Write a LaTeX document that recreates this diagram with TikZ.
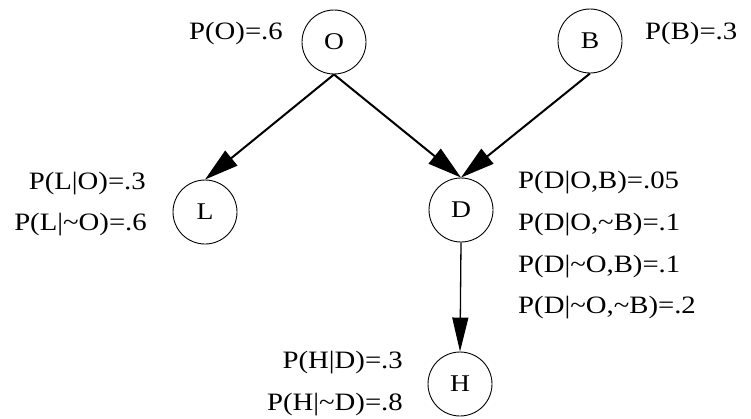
\documentclass[tikz,border=0pt]{standalone}
\usepackage{fontspec}
\setmainfont{Liberation Serif}[FakeStretch=1.15]
\usetikzlibrary{arrows.meta}
\begin{document}
\begin{tikzpicture}[x=1pt,y=-1pt,
  var/.style={draw, circle, line width=0.9pt, minimum size=64pt, inner sep=0pt, font=\fontsize{24}{26}\selectfont},
  lbl/.style={inner sep=0pt, font=\fontsize{25}{28}\selectfont},
  edge/.style={line width=2pt, -{Triangle[length=34pt,width=19pt]}},
  edgethin/.style={line width=1.3pt, -{Triangle[length=34pt,width=16pt]}}]
\useasboundingbox (0,0) rectangle (751,418);
\node[var] (O) at (334,42) {O};
\node[var] (B) at (590,41) {B};
\node[var] (L) at (205,212) {L};
\node[var] (D) at (461,210) {D};
\node[var] (H) at (460,384) {H};
\draw[edge] (O.south) -- (L.north);
\draw[edge] (O.south) -- (D.north);
\draw[edge] (B.south) -- (D.north);
\draw[edgethin] (D.south) -- (H.north);
\node[lbl, anchor=east] (pO) at (283,33) {P(O)=.6};
\node[lbl, anchor=west] (pB) at (645,33) {P(B)=.3};
\node[lbl, anchor=east] (pL1) at (146,184) {P(L|O)=.3};
\node[lbl, anchor=east] (pL2) at (147,225) {P(L|\textasciitilde O)=.6};
\node[lbl, anchor=west] (pD1) at (518,183) {P(D|O,B)=.05};
\node[lbl, anchor=west] (pD2) at (518,225) {P(D|O,\textasciitilde B)=.1};
\node[lbl, anchor=west] (pD3) at (518,267) {P(D|\textasciitilde O,B)=.1};
\node[lbl, anchor=west] (pD4) at (518,308) {P(D|\textasciitilde O,\textasciitilde B)=.2};
\node[lbl, anchor=east] (pH1) at (403,363) {P(H|D)=.3};
\node[lbl, anchor=east] (pH2) at (403,405) {P(H|\textasciitilde D)=.8};
\end{tikzpicture}
\end{document}
